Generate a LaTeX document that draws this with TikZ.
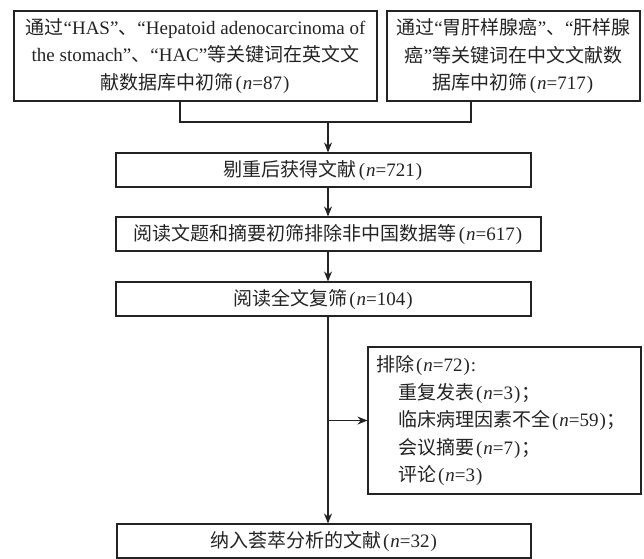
\documentclass[tikz,border=0pt]{standalone}
\usepackage{fontspec}
\setmainfont{Liberation Serif}
\newfontfamily\cjk{Noto Sans CJK SC}
\usetikzlibrary{arrows.meta,positioning,calc}
\definecolor{ink}{RGB}{35,35,35}
\newcommand{\fsz}{\fontsize{19}{27.5}\selectfont}
\newcommand{\zh}[1]{{\cjk #1}}
\newcommand{\nv}[1]{\kern2pt(\kern1pt\textit{n}=#1\kern1pt)\kern1pt}
\tikzset{
  box/.style={draw=ink,line width=1.1pt,inner sep=4pt,align=center,font=\fsz,
    text=ink,minimum height=34pt},
  arr/.style={-{Stealth[length=10pt,width=8pt]},line width=1.1pt,draw=ink},
  lnk/.style={line width=1.1pt,draw=ink},
}

\begin{document}
\begin{tikzpicture}[x=1pt,y=-1pt]
  \useasboundingbox (0,0) rectangle (644,558);
  \node[box,minimum width=363pt,minimum height=90pt] (engdb) at (195.5,56)
    {\zh{通过}“HAS”\zh{、}“Hepatoid adenocarcinoma of\\
     the stomach”\zh{、}“HAC”\zh{等关键词在英文文}\\
     \zh{献数据库中初筛}\nv{87}};
  \node[box,minimum width=253pt,minimum height=90pt] (cndb) at (513.5,56)
    {\zh{通过}“\zh{胃肝样腺癌}”\zh{、}“\zh{肝样腺}\\
     \zh{癌}”\zh{等关键词在中文文献数}\\
     \zh{据库中初筛}\nv{717}};
  \node[box,minimum width=415pt] (dedup) at (323.5,170)
    {\zh{剔重后获得文献}\nv{721}};
  \node[box,minimum width=425pt] (abs) at (328.5,234)
    {\zh{阅读文题和摘要初筛排除非中国数据等}\nv{617}};
  \node[box,minimum width=415pt] (fulltext) at (323.5,299)
    {\zh{阅读全文复筛}\nv{104}};
  \node[box,minimum width=273pt,minimum height=147pt,align=left,
    text width=257pt,inner sep=8pt] (excl) at (504.5,420.5)
    {\zh{排除}\nv{72}:\\
     \hspace*{22pt}\zh{重复发表}\nv{3}\zh{；}\\
     \hspace*{22pt}\zh{临床病理因素不全}\nv{59}\zh{；}\\
     \hspace*{22pt}\zh{会议摘要}\nv{7}\zh{；}\\
     \hspace*{22pt}\zh{评论}\nv{3}};
  \node[box,minimum width=414pt] (incl) at (324,541)
    {\zh{纳入荟萃分析的文献}\nv{32}};

  \coordinate (lj) at (180,122);
  \coordinate (rj) at (471,122);
  \coordinate (mj) at (328,122);
  \draw[lnk] (engdb.south -| lj) -- (lj) -- (rj) -- (cndb.south -| rj);
  \draw[arr] (mj) -- (dedup.north -| mj);
  \draw[arr] (dedup.south -| mj) -- (abs.north -| mj);
  \draw[arr] (abs.south -| mj) -- (fulltext.north -| mj);
  \draw[arr] (fulltext.south -| mj) -- (incl.north -| mj);
  \draw[arr] (excl.west -| mj) -- (excl.west);
\end{tikzpicture}
\end{document}
